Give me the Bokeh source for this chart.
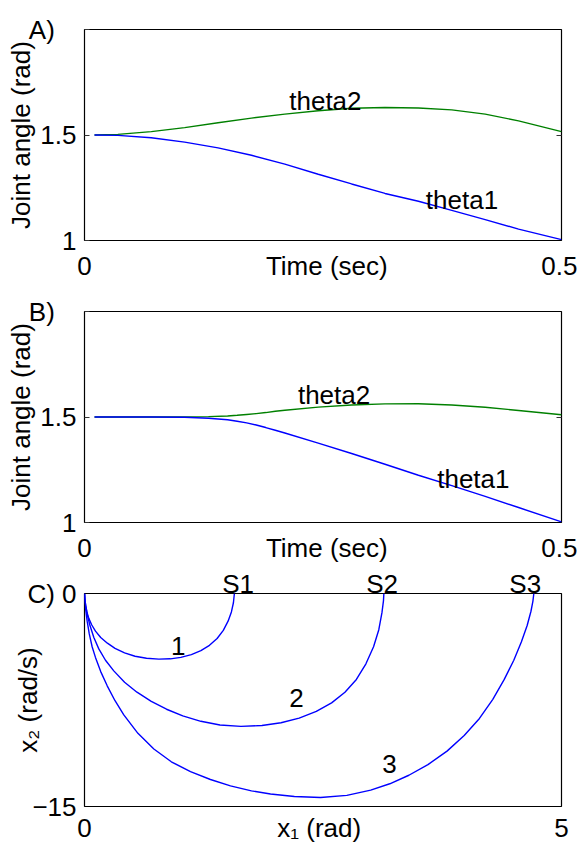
from bokeh.plotting import figure
from bokeh.layouts import column
from bokeh.models import Range1d, FixedTicker, LinearAxis
from bokeh.embed import file_html
from bokeh.resources import INLINE

# ---------------- data ----------------
# Panel A
t_a = [0.0105, 0.035, 0.07, 0.105, 0.14, 0.175, 0.21, 0.245, 0.28, 0.315, 0.35, 0.385, 0.42, 0.455, 0.5]
theta1_a = [1.500, 1.498, 1.487, 1.466, 1.439, 1.404, 1.362, 1.314, 1.268, 1.223, 1.186, 1.143, 1.099, 1.054, 1.004]
theta2_a = [1.500, 1.503, 1.516, 1.535, 1.558, 1.580, 1.599, 1.615, 1.627, 1.630, 1.628, 1.619, 1.599, 1.567, 1.516]

# Panel B
t_b = [0.0105, 0.035, 0.07, 0.105, 0.13, 0.15, 0.16, 0.17, 0.18, 0.19, 0.20, 0.21, 0.245, 0.28,
       0.315, 0.35, 0.385, 0.42, 0.455, 0.5]
theta1_b = [1.500, 1.500, 1.500, 1.499, 1.494, 1.487, 1.480, 1.472, 1.462, 1.450, 1.437, 1.424, 1.376,
            1.327, 1.276, 1.224, 1.175, 1.124, 1.071, 1.003]
theta2_b = [1.500, 1.500, 1.500, 1.500, 1.502, 1.505, 1.508, 1.512, 1.516, 1.521, 1.527, 1.532, 1.547,
            1.557, 1.562, 1.5625, 1.557, 1.546, 1.531, 1.511]

# Panel C (phase-plane trajectories)
x1_c1 = [0.000, 0.004, 0.012, 0.025, 0.045, 0.075, 0.115, 0.170, 0.240, 0.320, 0.420, 0.530, 0.650,
         0.780, 0.900, 1.010, 1.120, 1.220, 1.310, 1.390, 1.455, 1.505, 1.540, 1.561, 1.571]
x2_c1 = [0.00, -0.40, -0.85, -1.30, -1.75, -2.20, -2.65, -3.10, -3.50, -3.86, -4.18, -4.42, -4.56,
         -4.62, -4.60, -4.50, -4.30, -4.02, -3.65, -3.17, -2.60, -1.95, -1.30, -0.65, 0.00]

x1_c2 = [0.000, 0.004, 0.014, 0.030, 0.055, 0.098, 0.150, 0.220, 0.307, 0.420, 0.550, 0.700, 0.860,
         1.030, 1.220, 1.420, 1.640, 1.860, 2.060, 2.250, 2.430, 2.590, 2.730, 2.850, 2.950, 3.030,
         3.085, 3.118, 3.134, 3.138]
x2_c2 = [0.00, -0.45, -0.90, -1.50, -2.20, -3.10, -3.90, -4.70, -5.45, -6.25, -6.95, -7.60, -8.15,
         -8.62, -9.00, -9.26, -9.36, -9.30, -9.10, -8.78, -8.30, -7.70, -6.95, -6.05, -4.95, -3.75,
         -2.55, -1.35, -0.50, 0.00]

x1_c3 = [0.000, 0.004, 0.012, 0.028, 0.050, 0.080, 0.115, 0.170, 0.238, 0.320, 0.412, 0.560, 0.727,
         0.910, 1.111, 1.320, 1.530, 1.750, 1.950, 2.200, 2.474, 2.750, 3.000, 3.200, 3.400, 3.600,
         3.800, 3.980, 4.140, 4.280, 4.400, 4.500, 4.580, 4.640, 4.680, 4.700, 4.710]
x2_c3 = [0.00, -0.55, -1.10, -1.95, -2.85, -3.75, -4.50, -5.50, -6.50, -7.55, -8.55, -9.85, -10.95,
         -11.85, -12.55, -13.10, -13.55, -13.90, -14.12, -14.30, -14.37, -14.22, -13.85, -13.40, -12.80,
         -12.05, -11.10, -10.00, -8.80, -7.45, -6.05, -4.70, -3.40, -2.25, -1.25, -0.55, 0.00]

# tick values and tick/axis texts
NB = "\u00a0\u00a0\u00a0"
xticks_ab = [0, 0.254, 0.5]
xlabels_ab = ["0", "Time (sec)", "0.5"]
yticks_ab = [1, 1.5, 2]
ylabels_a = ["1", "1.5", "A)" + NB]
ylabels_b = ["1", "1.5", "B)" + NB]
ylabel_ab = "Joint angle (rad)"

xticks_c = [0, 2.46, 5]
xlabels_c = ["0", "x\u2081 (rad)", "5"]
yticks_c = [-15, -0.001, 0]
ylabels_c = ["\u221215", "C)" + NB, "0"]
ylabel_c = "x\u2082 (rad/s)"

sticks_c = [1.61, 3.12, 4.62]
slabels_c = ["S1", "S2", "S3"]

curve_label_x = [0.982, 2.222, 3.197]
curve_label_y = [-3.70, -7.35, -12.0]
curve_label_t = ["1", "2", "3"]

FONT = "Liberation Sans"
FS = "26px"
BLUE = "#0000ff"
GREEN = "#008000"
W = 577


def make_fig(height, xr, yr, top, bottom, xt, xl, yt, yl, ylab, xstand, ylab_stand, ytick_color):
    p = figure(width=W, height=height, x_range=Range1d(*xr), y_range=Range1d(*yr),
               output_backend="svg", toolbar_location=None,
               min_border_left=84, min_border_right=W - 84 - 477,
               min_border_top=top, min_border_bottom=bottom)
    p.xgrid.visible = False
    p.ygrid.visible = False
    p.outline_line_color = "black"
    p.outline_line_width = 1.2
    p.outline_line_alpha = 1.0
    p.background_fill_color = "white"
    p.border_fill_color = "white"
    for ax in (p.xaxis[0], p.yaxis[0]):
        ax.axis_line_color = None
        ax.major_tick_in = 5
        ax.major_tick_out = 0
        ax.minor_tick_line_color = None
        ax.major_label_text_font = FONT
        ax.major_label_text_font_size = FS
        ax.major_label_text_color = "black"
    p.xaxis.major_tick_line_color = None
    p.yaxis.major_tick_line_color = ytick_color
    p.xaxis.ticker = FixedTicker(ticks=xt)
    p.xaxis.major_label_overrides = {k: v for k, v in zip(xt, xl)}
    p.yaxis.ticker = FixedTicker(ticks=yt)
    p.yaxis.major_label_overrides = {k: v for k, v in zip(yt, yl)}
    p.xaxis.major_label_standoff = xstand
    p.yaxis.major_label_standoff = 8
    p.yaxis.axis_label = ylab
    p.yaxis.axis_label_text_font = FONT
    p.yaxis.axis_label_text_font_size = FS
    p.yaxis.axis_label_text_font_style = "normal"
    p.yaxis.axis_label_text_color = "black"
    p.yaxis.axis_label_standoff = ylab_stand
    return p


def add_right_ticks(p):
    ax = LinearAxis(ticker=FixedTicker(ticks=[1.5]))
    ax.axis_line_color = None
    ax.major_tick_in = 5
    ax.major_tick_out = 0
    ax.major_tick_line_color = "#333333"
    ax.minor_tick_line_color = None
    ax.major_label_overrides = {1.5: ""}
    ax.major_label_standoff = 0
    p.add_layout(ax, "right")


def add_text(p, xs, ys, texts, baseline):
    p.text(x=xs, y=ys, text=texts, text_font={"value": FONT}, text_font_size={"value": FS},
           text_align="center", text_baseline=baseline, text_color="black")


# ---------------- Panel A ----------------
pa = make_fig(283, (0, 0.5), (1, 2), 29, 43, xticks_ab, xlabels_ab, yticks_ab, ylabels_a,
              ylabel_ab, 10, -10, "#333333")
add_right_ticks(pa)
pa.line(t_a, theta2_a, line_color=GREEN, line_width=1.4)
pa.line(t_a, theta1_a, line_color=BLUE, line_width=1.4)
add_text(pa, [0.2525, 0.3957], [1.660, 1.191], ["theta2", "theta1"], "alphabetic")

# ---------------- Panel B ----------------
pb = make_fig(282, (0, 0.5), (1, 2), 28, 43, xticks_ab, xlabels_ab, yticks_ab, ylabels_b,
              ylabel_ab, 10, -10, "#333333")
add_right_ticks(pb)
pb.line(t_b, theta2_b, line_color=GREEN, line_width=1.4)
pb.line(t_b, theta1_b, line_color=BLUE, line_width=1.4)
add_text(pb, [0.2616, 0.4076], [1.603, 1.207], ["theta2", "theta1"], "alphabetic")

# ---------------- Panel C ----------------
pc = make_fig(280, (0, 5), (-15, 0), 28, 39, xticks_c, xlabels_c, yticks_c, ylabels_c,
              ylabel_c, 6, -19, None)
top = LinearAxis(ticker=FixedTicker(ticks=sticks_c))
top.major_label_overrides = {k: v for k, v in zip(sticks_c, slabels_c)}
top.axis_line_color = None
top.major_tick_line_color = None
top.minor_tick_line_color = None
top.major_label_text_font = FONT
top.major_label_text_font_size = FS
top.major_label_text_color = "black"
top.major_label_standoff = -11
pc.add_layout(top, "above")
pc.line(x1_c1, x2_c1, line_color=BLUE, line_width=1.4)
pc.line(x1_c2, x2_c2, line_color=BLUE, line_width=1.4)
pc.line(x1_c3, x2_c3, line_color=BLUE, line_width=1.4)
add_text(pc, curve_label_x, curve_label_y, curve_label_t, "middle")

layout = column(pa, pb, pc, spacing=0)
open("out.html", "w").write(file_html(layout, INLINE))
